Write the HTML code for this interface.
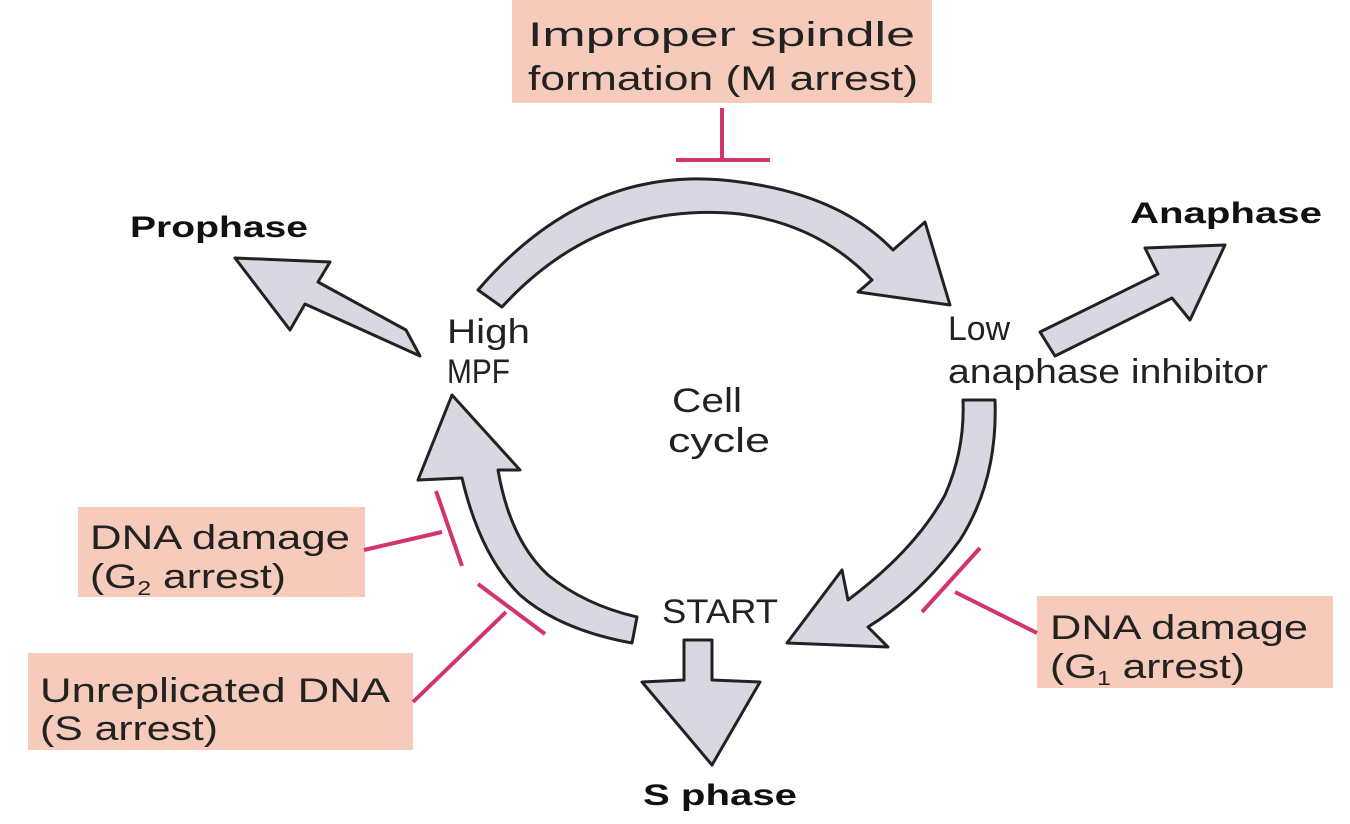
<!DOCTYPE html>
<html><head><meta charset="utf-8"><style>
html,body{margin:0;padding:0;background:#fff;}
svg{display:block;}
text{font-family:"Liberation Sans",sans-serif;fill:#222;}
.box{fill:#f6cbbb;}
.lbl{font-size:34px;}
.bold{font-size:30px;font-weight:bold;fill:#111;}
.arr{fill:#d9d7e2;stroke:#222;stroke-width:3;stroke-linejoin:round;}
.inh{stroke:#d3336f;stroke-width:4;fill:none;}
</style></head><body>
<svg width="1350" height="824" viewBox="0 0 1350 824">
<g>
<rect class="box" x="512" y="0" width="420" height="103"/>
<text class="lbl" x="528" y="46" textLength="387" lengthAdjust="spacingAndGlyphs">Improper spindle</text>
<text class="lbl" x="528" y="90" textLength="390" lengthAdjust="spacingAndGlyphs">formation (M arrest)</text>
</g>
<g>
<rect class="box" x="78" y="507" width="287" height="90"/>
<text class="lbl" x="90" y="549" textLength="260" lengthAdjust="spacingAndGlyphs">DNA damage</text>
<text class="lbl" x="90" y="588" textLength="196" lengthAdjust="spacingAndGlyphs">(G<tspan font-size="20" dy="7">2</tspan><tspan dy="-7"> arrest)</tspan></text>
</g>
<g>
<rect class="box" x="28" y="653" width="385" height="97"/>
<text class="lbl" x="40" y="702" textLength="350" lengthAdjust="spacingAndGlyphs">Unreplicated DNA</text>
<text class="lbl" x="40" y="740" textLength="178" lengthAdjust="spacingAndGlyphs">(S arrest)</text>
</g>
<g>
<rect class="box" x="1037" y="596" width="296" height="92"/>
<text class="lbl" x="1050" y="639" textLength="258" lengthAdjust="spacingAndGlyphs">DNA damage</text>
<text class="lbl" x="1050" y="678" textLength="195" lengthAdjust="spacingAndGlyphs">(G<tspan font-size="20" dy="7">1</tspan><tspan dy="-7"> arrest)</tspan></text>
</g>

<g>
<path class="inh" d="M722,108 L722,160 M676,160 L770,160"/></g>
<g>
<path class="inh" d="M364,550 L442,532 M436,491 L462,566"/></g>
<g>
<path class="inh" d="M413,702 L506,612 M478,584 L545,634"/></g>
<g>
<path class="inh" d="M1037,633 L955,592 M922,612 L980,548"/></g>

<path class="arr" d="M478,290 Q590,160 740,182 Q840,195 893,250 L925,222 L950,305 L858,292 L872,280 Q820,225 740,214 Q600,200 502,307 Z"/>
<path class="arr" d="M963,400 L995,400 Q998,480 960,540 Q920,595 868,627 L888,647 L787,643 L842,570 L848,600 Q915,550 945,495 Q965,450 963,400 Z"/>
<path class="arr" d="M637,617 L632,643 Q560,630 520,595 Q480,555 462,478 L418,480 L452,395 L520,470 L498,470 Q510,540 548,575 Q585,605 637,617 Z"/>
<path class="arr" d="M420,356 L305,304 L290,330 L235,258 L330,262 L318,282 L406,330 Z"/>
<path class="arr" d="M1040,332 L1158,274 L1145,248 L1225,245 L1190,320 L1172,298 L1055,356 Z"/>
<path class="arr" d="M684,640 L712,640 L712,680 L760,682 L712,765 L642,682 L684,680 Z"/>

<text class="bold" x="130" y="237" textLength="178" lengthAdjust="spacingAndGlyphs">Prophase</text>
<text class="bold" x="1130" y="223" textLength="192" lengthAdjust="spacingAndGlyphs">Anaphase</text>
<text class="bold" x="643" y="805" textLength="154" lengthAdjust="spacingAndGlyphs">S phase</text>
<text class="lbl" x="447" y="343" textLength="83" lengthAdjust="spacingAndGlyphs">High</text>
<text class="lbl" x="447" y="383" textLength="63" lengthAdjust="spacingAndGlyphs">MPF</text>
<text class="lbl" x="948" y="340" textLength="62" lengthAdjust="spacingAndGlyphs">Low</text>
<text class="lbl" x="948" y="383" textLength="320" lengthAdjust="spacingAndGlyphs">anaphase inhibitor</text>
<text class="lbl" x="672" y="412" textLength="70" lengthAdjust="spacingAndGlyphs">Cell</text>
<text class="lbl" x="668" y="452" textLength="102" lengthAdjust="spacingAndGlyphs">cycle</text>
<text class="lbl" x="662" y="623" textLength="116" lengthAdjust="spacingAndGlyphs">START</text>
</svg>
</body></html>
